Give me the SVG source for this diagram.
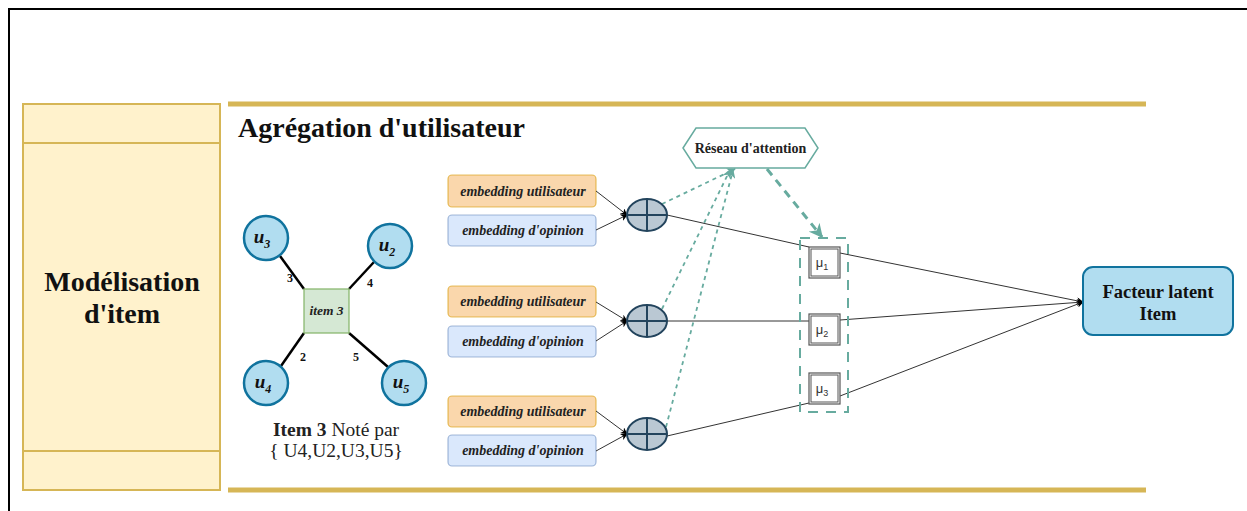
<svg xmlns="http://www.w3.org/2000/svg" width="1247" height="511" viewBox="0 0 1247 511">
<style>
.serif{font-family:"Liberation Serif","Times New Roman",serif;}
.emb{font-family:"Liberation Serif",serif;font-style:italic;font-weight:bold;font-size:14px;fill:#222;}
.user{fill:#b1ddf0;stroke:#10739e;stroke-width:2.5;}
.ulab{font-family:"Liberation Serif",serif;font-style:italic;font-weight:bold;font-size:19px;fill:#111;}
.edge{stroke:#000;stroke-width:2.5;}
.num{font-family:"Liberation Serif",serif;font-weight:bold;font-size:12px;fill:#111;}
.orange{fill:#fad7ac;stroke:#d79b00;stroke-opacity:0.6;stroke-width:1.2;}
.blue{fill:#dae8fc;stroke:#6c8ebf;stroke-opacity:0.6;stroke-width:1.2;}
.plus{fill:#bac8d3;stroke:#23445d;stroke-width:2;}
.thin{stroke:#333;stroke-width:1;fill:none;}
.att{stroke:#67ab9f;stroke-width:1.8;stroke-dasharray:4 4;fill:none;}
.mu{fill:#fff;stroke:#555;stroke-width:1.2;}
.mut{font-family:"Liberation Sans",Arial,sans-serif;font-size:13px;fill:#333;}
.gold{stroke:#d6b656;stroke-width:5;}
</style>
<defs>
<marker id="ah" viewBox="0 0 10 10" refX="9" refY="5" markerWidth="7" markerHeight="7" markerUnits="userSpaceOnUse" orient="auto"><path d="M0,0 L10,5 L0,10 L3,5 z" fill="#000"/></marker>
<marker id="ahg" viewBox="0 0 10 10" refX="9" refY="5" markerWidth="9" markerHeight="9" markerUnits="userSpaceOnUse" orient="auto"><path d="M0,0 L10,5 L0,10 L3,5 z" fill="#67ab9f"/></marker>
<marker id="ahg2" viewBox="0 0 10 10" refX="9" refY="5" markerWidth="14" markerHeight="14" markerUnits="userSpaceOnUse" orient="auto"><path d="M0,0 L10,5 L0,10 L3,5 z" fill="#67ab9f"/></marker>
</defs>
<rect width="1247" height="511" fill="#fff"/>
<path d="M9,511 V9 H1247" fill="none" stroke="#000" stroke-width="2"/>

<g id="item-modeling">
<rect x="23" y="104" width="197" height="386" fill="#fff2cc" stroke="#d6b656" stroke-width="2"/>
<line x1="23" y1="143" x2="220" y2="143" stroke="#d6b656" stroke-width="2"/>
<line x1="23" y1="451" x2="220" y2="451" stroke="#d6b656" stroke-width="2"/>
<text class="serif" x="122" y="291" text-anchor="middle" font-size="28" font-weight="bold" fill="#111">Modélisation</text>
<text class="serif" x="122" y="323" text-anchor="middle" font-size="28" font-weight="bold" fill="#111">d'item</text>
</g>

<g id="frame-lines">
<line class="gold" x1="228" y1="104" x2="1146" y2="104"/>
<line class="gold" x1="228" y1="490" x2="1146" y2="490"/>
<text class="serif" x="238" y="137" font-size="28" font-weight="bold" fill="#111">Agrégation d'utilisateur</text>
</g>

<g id="graph">
<line class="edge" x1="280" y1="256" x2="304" y2="289"/>
<line class="edge" x1="374" y1="262" x2="349" y2="289"/>
<line class="edge" x1="281" y1="366" x2="304" y2="333"/>
<line class="edge" x1="388" y1="367" x2="349" y2="333"/>
<text class="num" x="290" y="282" text-anchor="middle">3</text>
<text class="num" x="370" y="287" text-anchor="middle">4</text>
<text class="num" x="303" y="361" text-anchor="middle">2</text>
<text class="num" x="356" y="361" text-anchor="middle">5</text>
</g>

<g id="item3">
<rect x="304" y="289" width="45" height="44" fill="#d5e8d4" stroke="#82b366" stroke-width="1.2"/>
<text class="serif" x="326.5" y="315" text-anchor="middle" font-size="13.5" font-style="italic" font-weight="bold" fill="#222">item 3</text>
</g>
<g id="u3"><circle class="user" cx="266" cy="238" r="22"/><text class="ulab" x="262" y="243" text-anchor="middle">u<tspan font-size="12" dy="5">3</tspan></text></g>
<g id="u2"><circle class="user" cx="390" cy="246" r="22"/><text class="ulab" x="387" y="251" text-anchor="middle">u<tspan font-size="12" dy="5">2</tspan></text></g>
<g id="u4"><circle class="user" cx="266" cy="383" r="22"/><text class="ulab" x="263" y="388" text-anchor="middle">u<tspan font-size="12" dy="5">4</tspan></text></g>
<g id="u5"><circle class="user" cx="404" cy="383" r="22"/><text class="ulab" x="401" y="388" text-anchor="middle">u<tspan font-size="12" dy="5">5</tspan></text></g>
<g id="caption">
<text class="serif" x="336" y="436" text-anchor="middle" font-size="19.5" fill="#222"><tspan font-weight="bold">Item 3</tspan> Noté par</text>
<text class="serif" x="336" y="457" text-anchor="middle" font-size="19.5" fill="#222">{ U4,U2,U3,U5}</text>
</g>

<g id="emb1">
<rect class="orange" x="448" y="175" width="148" height="32" rx="4"/>
<text class="emb" x="523" y="196" text-anchor="middle">embedding utilisateur</text>
<rect class="blue" x="448" y="215" width="148" height="31" rx="4"/>
<text class="emb" x="523" y="235" text-anchor="middle">embedding d'opinion</text>
</g>
<g id="emb2">
<rect class="orange" x="448" y="286" width="148" height="31" rx="4"/>
<text class="emb" x="523" y="306" text-anchor="middle">embedding utilisateur</text>
<rect class="blue" x="448" y="326" width="148" height="31" rx="4"/>
<text class="emb" x="523" y="346" text-anchor="middle">embedding d'opinion</text>
</g>
<g id="emb3">
<rect class="orange" x="448" y="396" width="148" height="31" rx="4"/>
<text class="emb" x="523" y="416" text-anchor="middle">embedding utilisateur</text>
<rect class="blue" x="448" y="435" width="148" height="31" rx="4"/>
<text class="emb" x="523" y="455" text-anchor="middle">embedding d'opinion</text>
</g>

<g id="connectors">
<line class="thin" x1="596" y1="191" x2="627" y2="215" marker-end="url(#ah)"/>
<line class="thin" x1="596" y1="230" x2="627" y2="215" marker-end="url(#ah)"/>
<line class="thin" x1="596" y1="302" x2="627" y2="321" marker-end="url(#ah)"/>
<line class="thin" x1="596" y1="341" x2="627" y2="321" marker-end="url(#ah)"/>
<line class="thin" x1="596" y1="411" x2="627" y2="434" marker-end="url(#ah)"/>
<line class="thin" x1="596" y1="451" x2="627" y2="434" marker-end="url(#ah)"/>

<line class="thin" x1="667" y1="215" x2="809" y2="247"/>
<line class="thin" x1="840" y1="253" x2="1083" y2="302" marker-end="url(#ah)"/>
<line class="thin" x1="667" y1="321" x2="809" y2="321"/>
<line class="thin" x1="840" y1="320" x2="1083" y2="302" marker-end="url(#ah)"/>
<line class="thin" x1="667" y1="436" x2="809" y2="403"/>
<line class="thin" x1="840" y1="396" x2="1083" y2="302" marker-end="url(#ah)"/>

<line class="att" x1="662" y1="204" x2="735" y2="169" marker-end="url(#ahg)"/>
<line class="att" x1="662" y1="309" x2="730" y2="170" marker-end="url(#ahg)"/>
<line class="att" x1="666" y1="427" x2="733" y2="170" marker-end="url(#ahg)"/>
<line x1="767" y1="169" x2="822" y2="237" stroke="#67ab9f" stroke-width="3" stroke-dasharray="8 6" marker-end="url(#ahg2)"/>
</g>

<g id="oplus1"><ellipse class="plus" cx="647" cy="215" rx="20" ry="16"/><path d="M627,215 H667 M647,199 V231" stroke="#23445d" stroke-width="2"/></g>
<g id="oplus2"><ellipse class="plus" cx="647" cy="321" rx="20" ry="16"/><path d="M627,321 H667 M647,305 V337" stroke="#23445d" stroke-width="2"/></g>
<g id="oplus3"><ellipse class="plus" cx="647" cy="434" rx="20" ry="16"/><path d="M627,434 H667 M647,418 V450" stroke="#23445d" stroke-width="2"/></g>

<g id="attention">
<polygon points="683,148 696,128 805,128 818,148 805,168 696,168" fill="#fff" stroke="#67ab9f" stroke-width="1.5"/>
<text class="serif" x="750.5" y="153" text-anchor="middle" font-size="14" font-weight="bold" fill="#222">Réseau d'attention</text>
</g>

<g id="mu-group">
<rect x="800" y="238" width="48" height="174" fill="none" stroke="#67ab9f" stroke-width="2" stroke-dasharray="10 8"/>
</g>
<g id="mu1"><rect class="mu" x="809" y="247" width="31" height="31"/><rect x="811" y="249" width="27" height="27" fill="none" stroke="#555" stroke-width="1"/><text class="mut" x="822" y="267" text-anchor="middle">μ<tspan font-size="9" dy="3">1</tspan></text></g>
<g id="mu2"><rect class="mu" x="809" y="314" width="31" height="31"/><rect x="811" y="316" width="27" height="27" fill="none" stroke="#555" stroke-width="1"/><text class="mut" x="822" y="334" text-anchor="middle">μ<tspan font-size="9" dy="3">2</tspan></text></g>
<g id="mu3"><rect class="mu" x="809" y="373" width="31" height="31"/><rect x="811" y="375" width="27" height="27" fill="none" stroke="#555" stroke-width="1"/><text class="mut" x="822" y="393" text-anchor="middle">μ<tspan font-size="9" dy="3">3</tspan></text></g>

<g id="facteur">
<rect x="1083" y="267" width="150" height="68" rx="10" fill="#b1ddf0" stroke="#10739e" stroke-width="2"/>
<text class="serif" x="1158" y="298" text-anchor="middle" font-size="18.5" font-weight="bold" fill="#111">Facteur latent</text>
<text class="serif" x="1158" y="320" text-anchor="middle" font-size="18.5" font-weight="bold" fill="#111">Item</text>
</g>
</svg>
